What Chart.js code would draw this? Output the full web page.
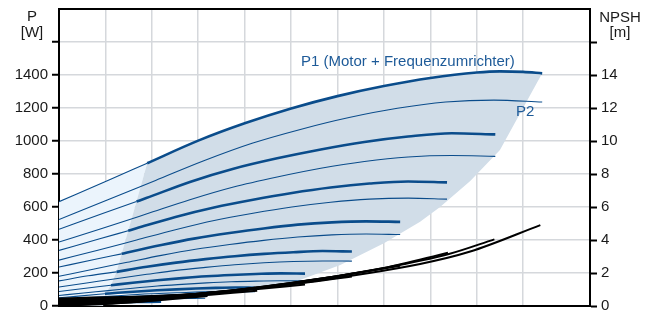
<!DOCTYPE html>
<html>
<head>
<meta charset="utf-8">
<script src="https://cdn.jsdelivr.net/npm/chart.js@4.4.1/dist/chart.umd.min.js"></script>
<style>
    html, body { margin: 0; padding: 0; background: #fff; }
    canvas { display: block; }
</style>
</head>
<body>
<canvas id="pumpChart" width="654" height="316"></canvas>
<script>
// pump speeds, top curve = 100%
const speeds = ["100%", "90%", "80%", "70%", "60%", "50%", "40%", "30%", "20%"];

// P1 (motor + inverter) [Q, W]
const p1_100 = [[0, 632], [1.04, 759], [1.90, 865], [3, 1002], [4, 1107], [5, 1197], [6, 1272], [7, 1333], [8, 1382], [9, 1415], [9.5, 1422], [10, 1419], [10.41, 1410]];
const p1_90 = [[0, 465], [0.94, 560], [1.67, 633], [1.88, 654], [2.82, 752], [3.76, 832], [4.70, 895], [5.64, 949], [6.58, 994], [7.52, 1027], [8.46, 1047], [9.40, 1040]];
const p1_80 = [[0, 337], [0.84, 404], [1.49, 456], [1.67, 471], [2.51, 540], [3.34, 597], [4.18, 644], [5.02, 685], [5.85, 718], [6.69, 742], [7.52, 755], [8.36, 749]];
const p1_70 = [[0, 236], [0.735, 280], [1.35, 316], [1.47, 324], [2.205, 370], [2.94, 410], [3.675, 442], [4.41, 470], [5.145, 493], [5.88, 507], [6.615, 513], [7.35, 510]];
const p1_60 = [[0, 152], [0.631, 183], [1.24, 207], [1.893, 238], [2.524, 263], [3.155, 284], [3.786, 302], [4.417, 316], [5.048, 326], [5.679, 333], [6.31, 330]];
const p1_50 = [[0, 88], [0.53, 106], [1.12, 126], [1.59, 141], [2.12, 156], [2.65, 169], [3.18, 180], [3.71, 188], [4.24, 194], [4.77, 198], [5.30, 196]];
const p1_40 = [[0, 50], [0.42, 60], [0.99, 74], [1.27, 80], [1.69, 88], [2.11, 95], [2.53, 101], [2.95, 106], [3.38, 110], [3.80, 112], [4.22, 111]];
const p1_30 = [[0, 28], [0.63, 40], [0.9, 44], [1.26, 50], [1.89, 58], [2.52, 63], [3.15, 63]];
const p1_20 = [[0, 13], [0.44, 17], [0.8, 20], [1.1, 23], [1.54, 27], [1.98, 30], [2.2, 30]];

// P2 (shaft power) [Q, W]
const p2_100 = [[0, 524], [1.04, 643], [2.08, 761], [3.12, 880], [4.16, 986], [5.2, 1070], [6.25, 1142], [7.29, 1198], [8.33, 1236], [9.37, 1248], [10.41, 1236]];
const p2_90 = [[0, 388], [0.94, 471], [1.88, 557], [2.82, 644], [3.76, 721], [4.70, 782], [5.64, 835], [6.58, 876], [7.52, 903], [8.46, 912], [9.40, 907]];
const p2_80 = [[0, 278], [0.836, 338], [1.672, 400], [2.508, 462], [3.344, 518], [4.18, 562], [5.016, 600], [5.852, 629], [6.688, 648], [7.524, 654], [8.36, 648]];
const p2_70 = [[0, 180], [0.735, 223], [1.47, 265], [2.205, 307], [2.94, 344], [3.675, 373], [4.41, 398], [5.145, 418], [5.88, 431], [6.615, 436], [7.35, 433]];
const p2_60 = [[0, 115], [0.631, 141], [1.262, 167], [1.893, 192], [2.524, 216], [3.155, 234], [3.786, 250], [4.417, 262], [5.048, 270], [5.679, 273], [6.31, 272]];
const p2_50 = [[0, 64], [0.53, 79], [1.06, 93], [1.59, 108], [2.12, 121], [2.65, 131], [3.18, 140], [3.71, 147], [4.24, 151], [4.77, 153], [5.30, 152]];
const p2_40 = [[0, 37], [0.844, 54], [1.688, 70], [2.532, 80], [3.376, 87], [4.22, 87]];
const p2_30 = [[0, 20], [1.05, 33], [2.1, 43], [3.15, 47]];
const p2_20 = [[0, 9], [0.73, 15], [1.47, 19.5], [2.2, 21]];

// NPSH [Q, m]
const npsh_100 = [[0, 0.45], [3.04, 0.75], [5.19, 1.4], [7.78, 2.55], [8.86, 3.3], [10.37, 4.9]];
const npsh_90 = [[0, 0.36], [3.0, 0.75], [5.0, 1.38], [7.0, 2.3], [8.4, 3.15], [9.38, 4.04]];
const npsh_80 = [[0, 0.29], [3.0, 0.75], [5.0, 1.4], [7.0, 2.3], [8.38, 3.23]];
const npsh_70 = [[0, 0.22], [3.0, 0.75], [5.0, 1.4], [6.3, 1.95], [7.35, 2.44]];
const npsh_60 = [[0, 0.16], [2.5, 0.6], [4.5, 1.15], [6.31, 1.78]];
const npsh_50 = [[0, 0.11], [2.5, 0.55], [4.0, 0.95], [5.30, 1.3]];
const npsh_40 = [[0, 0.07], [2.0, 0.4], [4.27, 0.92]];
const npsh_30 = [[0, 0.04], [1.5, 0.22], [3.2, 0.6]];
const npsh_20 = [[0, 0.02], [1.0, 0.12], [2.2, 0.36]];

// flow where each P1 line turns thick (left edge of the operating area)
const p1ThickFrom = [1.90, 1.67, 1.49, 1.35, 1.24, 1.12, 0.99, 0.9, 0.8];

// operating area outline [Q, W]
const greyArea = [[1.90, 865], [3, 1002], [4, 1107], [5, 1197], [6, 1272], [7, 1333], [8, 1382], [9, 1415], [9.5, 1422], [10, 1419], [10.41, 1410],
    [9.50, 945], [8.86, 758], [8.21, 600], [7.78, 511], [7.00, 380], [6.06, 248], [5.19, 158], [4.33, 103], [3.04, 79], [1.96, 73], [0.99, 74],
    [1.12, 126], [1.24, 207], [1.35, 316], [1.49, 456], [1.67, 633], [1.90, 865]];
// low flow area outline [Q, W]
const lightArea = [[0, 632], [1.90, 865], [1.67, 633], [1.49, 456], [1.35, 316], [1.24, 207], [1.12, 126], [0.99, 74], [0.95, 0], [0, 0], [0, 632]];

const wTicks = [0, 200, 400, 600, 800, 1000, 1200, 1400];
const npshTicks = [0, 2, 4, 6, 8, 10, 12, 14];

const p1Curves = [p1_100, p1_90, p1_80, p1_70, p1_60, p1_50, p1_40, p1_30, p1_20];
const p2Curves = [p2_100, p2_90, p2_80, p2_70, p2_60, p2_50, p2_40, p2_30, p2_20];
const npshCurves = [npsh_100, npsh_90, npsh_80, npsh_70, npsh_60, npsh_50, npsh_40, npsh_30, npsh_20];

const BLUE = "#0a4c8b";
const pts = (arr) => arr.map((p) => ({ x: p[0], y: p[1] }));
const part = (arr, from, to) => pts(arr.filter((p) => p[0] >= from && p[0] <= to));

const curve = (label, data, color, width, axis, order) => ({
    label, data, yAxisID: axis, order,
    borderColor: color, borderWidth: width,
    pointRadius: 0, fill: false,
    cubicInterpolationMode: "monotone",
});

const datasets = [];
speeds.forEach((s, i) => {
    datasets.push(curve("NPSH " + s, pts(npshCurves[i]), "#000", 2, "y2", 0));
});
speeds.forEach((s, i) => {
    datasets.push(curve("P1 " + s, part(p1Curves[i], p1ThickFrom[i], 99), BLUE, 2.6, "y", 1));
    datasets.push(curve("P1 " + s + " ext", part(p1Curves[i], 0, p1ThickFrom[i]), BLUE, 1.1, "y", 1));
    datasets.push(curve("P2 " + s, pts(p2Curves[i]), BLUE, 1.1, "y", 1));
});
datasets.push({
    label: "area", data: pts(greyArea), yAxisID: "y", order: 3,
    borderWidth: 0, pointRadius: 0, tension: 0,
    fill: "shape", backgroundColor: "#d1dde8",
});
datasets.push({
    label: "low flow", data: pts(lightArea), yAxisID: "y", order: 4,
    borderWidth: 0, pointRadius: 0, tension: 0,
    fill: "shape", backgroundColor: "#ebf4fc",
});

const FONT = { family: "'Liberation Sans', Arial, Helvetica, sans-serif", size: 15 };
const GRID = "#d5d8dc";

const textPlugin = {
    id: "texts",
    afterDraw(chart) {
        const ctx = chart.ctx;
        ctx.save();
        ctx.font = "15px 'Liberation Sans', Arial, sans-serif";
        ctx.fillStyle = "#1a1a1a";
        ctx.textAlign = "center";
        ctx.fillText("P", 32, 21);
        ctx.fillText("[W]", 32, 37);
        ctx.fillText("NPSH", 620, 22);
        ctx.fillText("[m]", 620, 37);
        ctx.fillStyle = "#1d5a98";
        ctx.textAlign = "left";
        ctx.fillText("P1 (Motor + Frequenzumrichter)", 301, 66);
        ctx.fillText("P2", 516, 116);
        ctx.restore();
    },
};

// no extra room for half tick labels at the ends
const noPad = (s) => { s.paddingTop = 0; s.paddingBottom = 0; };

new Chart(document.getElementById("pumpChart"), {
    type: "line",
    data: { datasets },
    options: {
        responsive: false,
        animation: false,
        devicePixelRatio: 1,
        layout: { padding: 0 },
        plugins: { legend: { display: false }, tooltip: { enabled: false } },
        scales: {
            x: {
                type: "linear", position: "bottom", min: 0, max: 11.44,
                ticks: { display: false, stepSize: 1 },
                grid: { color: GRID, lineWidth: 1.5, drawTicks: false },
                border: { color: "#000", width: 2 },
                afterFit: (s) => { s.height = 10; s.paddingLeft = 0; s.paddingRight = 0; },
            },
            x2: {
                type: "linear", position: "top", min: 0, max: 1,
                ticks: { display: false },
                grid: { display: false, drawTicks: false },
                border: { color: "#000", width: 2 },
                afterFit: (s) => { s.height = 9; s.paddingLeft = 0; s.paddingRight = 0; },
            },
            y: {
                type: "linear", position: "left", min: 0, max: 1800,
                ticks: {
                    stepSize: 200, padding: 4, color: "#1a1a1a", font: FONT,
                    callback: (v) => (wTicks.includes(v) ? v : ""),
                },
                grid: {
                    color: GRID, lineWidth: 1.5, tickLength: 7, tickWidth: 2,
                    tickColor: (c) => (c.tick && c.tick.value === 1800 ? "rgba(0,0,0,0)" : "#000"),
                },
                border: { color: "#000", width: 2 },
                afterFit: (s) => { s.width = 59; noPad(s); },
            },
            y2: {
                type: "linear", position: "right", min: 0, max: 18,
                ticks: {
                    stepSize: 2, padding: 4, color: "#1a1a1a", font: FONT,
                    callback: (v) => (npshTicks.includes(v) ? v : ""),
                },
                grid: {
                    drawOnChartArea: false, tickLength: 7, tickWidth: 2,
                    tickColor: (c) => (c.tick && c.tick.value === 18 ? "rgba(0,0,0,0)" : "#000"),
                },
                border: { color: "#000", width: 2 },
                afterFit: (s) => { s.width = 64; noPad(s); },
            },
        },
    },
    plugins: [textPlugin],
});
</script>
</body>
</html>
